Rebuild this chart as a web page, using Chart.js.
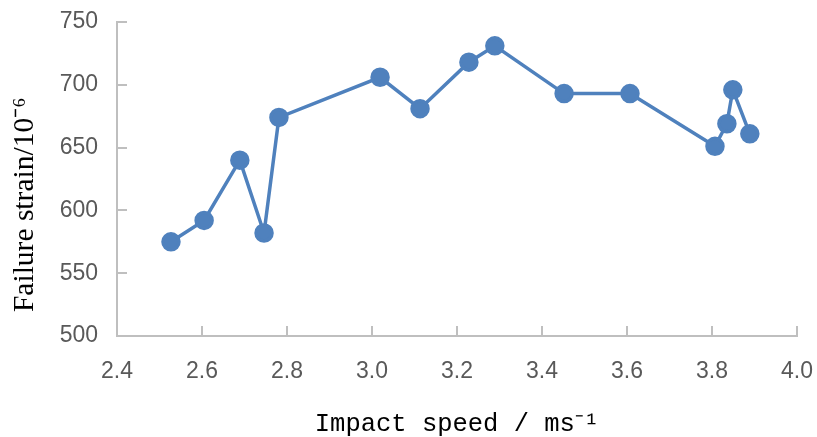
<!DOCTYPE html>
<html lang="en">
<head>
    <meta charset="UTF-8">
    <title>Failure strain vs impact speed</title>
    <style>
        body { margin: 0; background: #fff; }
        #box { width: 817px; height: 437px; }
    </style>
    <script src="https://cdn.jsdelivr.net/npm/chart.js@4"></script>
</head>
<body>
<div id="box"><canvas id="strainChart"></canvas></div>
<script>
    // values
    const speeds  = [2.527, 2.605, 2.689, 2.746, 2.781, 3.019, 3.113, 3.228, 3.289, 3.452, 3.607, 3.807, 3.835, 3.849, 3.889];
    const strains = [575, 592, 640, 582, 674, 706, 681, 718, 731, 693, 693, 651, 669, 696, 661];
    const xTicks = [2.4, 2.6, 2.8, 3.0, 3.2, 3.4, 3.6, 3.8, 4.0];
    const yTicks = [500, 550, 600, 650, 700, 750];

    const axisGrey = '#bfbfbf';
    const labelGrey = '#595959';

    // short tick marks pointing into the plot, like the original
    const innerTicks = {
        id: 'innerTicks',
        afterDraw(chart) {
            const c = chart.ctx, x = chart.scales.x, y = chart.scales.y;
            c.save();
            c.strokeStyle = axisGrey;
            c.lineWidth = 2;
            c.beginPath();
            xTicks.forEach(v => {
                const px = Math.round(x.getPixelForValue(v));
                c.moveTo(px, y.bottom);
                c.lineTo(px, y.bottom - 10);
            });
            yTicks.forEach(v => {
                const py = Math.round(y.getPixelForValue(v));
                c.moveTo(x.left, py);
                c.lineTo(x.left + 10, py);
            });
            c.stroke();
            c.restore();
        }
    };

    new Chart(document.getElementById('strainChart'), {
        type: 'scatter',
        data: {
            datasets: [{
                data: speeds.map((s, i) => ({ x: s, y: strains[i] })),
                showLine: true,
                borderColor: '#4f81bd',
                backgroundColor: '#4f81bd',
                borderWidth: 3.5,
                pointRadius: 8,
                pointHoverRadius: 8
            }]
        },
        options: {
            responsive: true,
            maintainAspectRatio: false,
            animation: false,
            layout: { padding: { top: 22, right: 0, left: 0, bottom: 0 } },
            plugins: { legend: { display: false }, tooltip: { enabled: false } },
            scales: {
                x: {
                    min: 2.4, max: 4.0,
                    afterBuildTicks: s => { s.ticks = xTicks.map(v => ({ value: v })); },
                    afterFit: s => { s.height = 101; s.paddingRight = 20; },
                    grid: { display: false, drawTicks: false },
                    border: { display: true, color: axisGrey, width: 2 },
                    ticks: {
                        padding: 22, color: labelGrey,
                        font: { family: 'Liberation Sans', size: 23 },
                        callback: v => v.toFixed(1)
                    },
                    title: {
                        display: true, text: 'Impact speed / ms⁻¹', color: '#000',
                        font: { family: 'Liberation Mono', size: 25.5 },
                        padding: { top: -3, bottom: -3 }
                    }
                },
                y: {
                    min: 500, max: 750,
                    afterBuildTicks: s => { s.ticks = yTicks.map(v => ({ value: v })); },
                    afterFit: s => { s.width = 117; s.paddingTop = 0; s.paddingBottom = 0; },
                    grid: { display: false, drawTicks: false },
                    border: { display: true, color: axisGrey, width: 2 },
                    ticks: {
                        padding: 19, color: labelGrey,
                        font: { family: 'Liberation Sans', size: 23 }
                    },
                    title: {
                        display: true,
                        // trailing spaces push the rotated text a little lower, as in the original
                        text: 'Failure strain/10⁻⁶\u00a0\u00a0\u00a0\u00a0\u00a0\u00a0\u00a0',
                        color: '#000',
                        font: { family: 'Liberation Serif', size: 29.5 },
                        padding: { top: 8, bottom: 8 }
                    }
                }
            }
        },
        plugins: [innerTicks]
    });
</script>
</body>
</html>
